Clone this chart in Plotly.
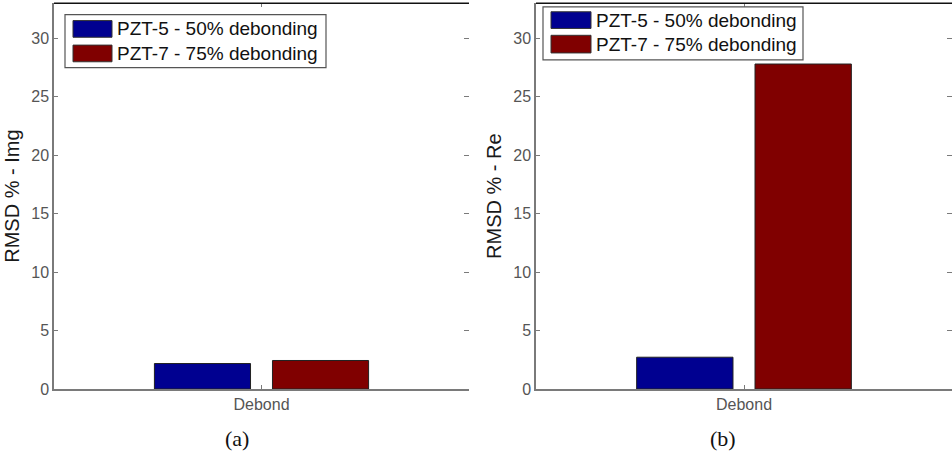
import plotly.graph_objects as go

# ---- data ----
categories = ["Debond"]
series_names = ["PZT-5 - 50% debonding", "PZT-7 - 75% debonding"]
series_colors = ["#000090", "#800000"]
rmsd_img = [2.18, 2.44]   # panel (a): PZT-5, PZT-7
rmsd_re = [2.72, 27.8]    # panel (b): PZT-5, PZT-7
y_ticks = [0, 5, 10, 15, 20, 25, 30]
panel_titles = ["RMSD % - Img", "RMSD % - Re"]
captions = ["(a)", "(b)"]

W, H = 952, 464

def px(x):
    return x / W

def py(y):
    return 1 - y / H

fig = go.Figure()

panels = [rmsd_img, rmsd_re]
for p, vals in enumerate(panels):
    xa = "x" if p == 0 else "x2"
    ya = "y" if p == 0 else "y2"
    for i, name in enumerate(series_names):
        fig.add_trace(go.Bar(
            x=categories, y=[vals[i]], name=name,
            marker=dict(color=series_colors[i], line=dict(color="#222222", width=1)),
            xaxis=xa, yaxis=ya, showlegend=False,
        ))

# empty helper traces for the mirrored-tick overlay axes
for xa, ya in [("x3", "y3"), ("x4", "y4")]:
    fig.add_trace(go.Scatter(x=[], y=[], xaxis=xa, yaxis=ya, showlegend=False, hoverinfo="skip"))

ydom = [py(396.7), py(3.3)]
xdom1 = [px(54), px(469)]
xdom2 = [px(536), 1.0]
axis_gray = "#7a7a7a"
tick_font = dict(family="Liberation Sans, Arial, sans-serif", size=16, color="#555555")
title_font = dict(family="Liberation Sans, Arial, sans-serif", size=20, color="#1a1a1a")

common_x = dict(type="category", range=[-0.5, 0.5], showgrid=False, zeroline=False,
                showline=True, linecolor=axis_gray, linewidth=1.5,
                ticks="inside", ticklen=4, tickcolor=axis_gray,
                tickfont=tick_font)
common_y = dict(range=[0, 33], tickvals=y_ticks, showgrid=False, zeroline=False,
                showline=True, linecolor=axis_gray, linewidth=1.5,
                ticks="inside", ticklen=4, tickcolor=axis_gray,
                tickfont=tick_font, domain=ydom)
mirror_y = dict(range=[0, 33], tickvals=y_ticks, showgrid=False, zeroline=False,
                showline=False, ticks="inside", ticklen=5, tickcolor=axis_gray,
                showticklabels=False, side="right", domain=ydom)
mirror_x = dict(range=[-0.5, 0.5], tickvals=[0], showgrid=False, zeroline=False,
                showline=False, ticks="inside", ticklen=4, tickcolor=axis_gray,
                showticklabels=False, side="top")

fig.update_layout(
    width=W, height=H, margin=dict(l=0, r=0, t=0, b=0),
    paper_bgcolor="white", plot_bgcolor="rgba(0,0,0,0)",
    barmode="group", bargap=0.431, bargroupgap=0.186,
    showlegend=False,
    xaxis=dict(domain=xdom1, anchor="y", **common_x),
    xaxis2=dict(domain=xdom2, anchor="y2", **common_x),
    yaxis=dict(anchor="x", title=dict(text=panel_titles[0], standoff=6, font=title_font),
               **common_y),
    yaxis2=dict(anchor="x2", title=dict(text=panel_titles[1], standoff=6, font=title_font),
                **common_y),
    xaxis3=dict(domain=xdom1, anchor="y3", overlaying="x", **mirror_x),
    yaxis3=dict(anchor="x3", overlaying="y", **mirror_y),
    xaxis4=dict(domain=xdom2, anchor="y4", overlaying="x2", **mirror_x),
    yaxis4=dict(anchor="x4", overlaying="y2", **mirror_y),
)

shapes = []
annotations = []
# top black border lines
for xr, yr in [("x domain", "y domain"), ("x2 domain", "y2 domain")]:
    shapes.append(dict(type="line", xref=xr, yref=yr, x0=0, x1=1, y0=1, y1=1,
                       line=dict(color="#111111", width=1.5)))

# custom legends (box, swatches, labels) in pixel positions
legend_specs = [
    dict(box=(65, 15, 326, 69), sw_x=(73, 112), sw_y=[(21, 38), (46, 63)], tx=115),
    dict(box=(543, 7, 803, 61), sw_x=(551, 591), sw_y=[(12, 29), (36, 54)], tx=594),
]
for spec in legend_specs:
    x0, y0, x1, y1 = spec["box"]
    shapes.append(dict(type="rect", xref="paper", yref="paper",
                       x0=px(x0), x1=px(x1), y0=py(y1), y1=py(y0),
                       line=dict(color="#555555", width=1.2), fillcolor="white", layer="above"))
    for i, name in enumerate(series_names):
        sy0, sy1 = spec["sw_y"][i]
        shapes.append(dict(type="rect", xref="paper", yref="paper",
                           x0=px(spec["sw_x"][0]), x1=px(spec["sw_x"][1]),
                           y0=py(sy1), y1=py(sy0),
                           line=dict(color="#333333", width=1), fillcolor=series_colors[i],
                           layer="above"))
        annotations.append(dict(xref="paper", yref="paper", x=px(spec["tx"]),
                                y=py((sy0 + sy1) / 2), xanchor="left", yanchor="middle",
                                text=name, showarrow=False,
                                font=dict(family="Liberation Sans, Arial, sans-serif",
                                          size=19, color="#111111")))

# captions
for cx, cap in zip([237, 723], captions):
    annotations.append(dict(xref="paper", yref="paper", x=px(cx), y=py(447),
                            xanchor="center", yanchor="middle", text=cap, showarrow=False,
                            font=dict(family="Liberation Serif, Times New Roman, serif",
                                      size=22, color="#111111")))

fig.update_layout(shapes=shapes, annotations=annotations)
fig.write_html("out.html")
